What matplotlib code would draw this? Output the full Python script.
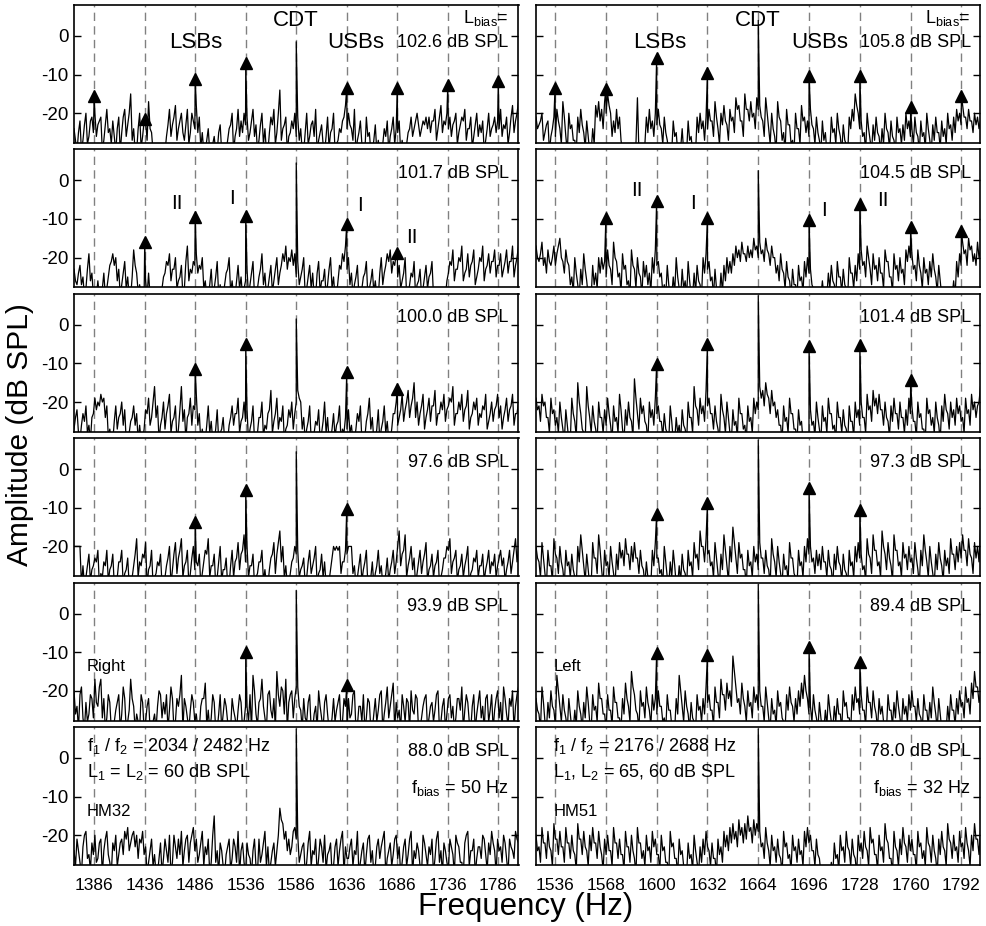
import numpy as np
import matplotlib
matplotlib.use("Agg")
import matplotlib.pyplot as plt

plt.rcParams['font.family'] = ['Liberation Sans', 'DejaVu Sans']
plt.rcParams['mathtext.fontset'] = 'custom'
plt.rcParams['mathtext.rm'] = 'Liberation Sans'
plt.rcParams['mathtext.it'] = 'Liberation Sans:italic'
plt.rcParams['axes.unicode_minus'] = False
plt.rcParams['lines.scale_dashes'] = False

# ---------------- data ----------------
left_xlim = (1366, 1806)
right_xlim = (1524, 1804)
left_ticks = [1386, 1436, 1486, 1536, 1586, 1636, 1686, 1736, 1786]
right_ticks = [1536, 1568, 1600, 1632, 1664, 1696, 1728, 1760, 1792]
left_cdt_freq = 1586
right_cdt_freq = 1664
left_sb_freqs = [1386, 1436, 1486, 1536, 1636, 1686, 1736, 1786]
right_sb_freqs = [1536, 1568, 1600, 1632, 1696, 1728, 1760, 1792]

left_lbias = ["102.6", "101.7", "100.0", "97.6", "93.9", "88.0"]
right_lbias = ["105.8", "104.5", "101.4", "97.3", "89.4", "78.0"]

left_cdt_levels = [-1.5, 4.5, 1.5, 4.5, 6.0, 7.5]
right_cdt_levels = [4.0, 2.5, 7.5, 7.5, 7.5, 7.5]

N = None
L1_sb = [-15.5, -21.5, -11.2, -7.0, -13.4, -13.4, -12.7, -11.6]
L2_sb = [N, -16.0, -9.6, -9.1, -11.2, -18.9, N, N]
L3_sb = [N, N, -11.4, -4.9, -12.3, -16.6, N, N]
L4_sb = [N, N, -13.6, -5.4, -10.2, N, N, N]
L5_sb = [N, N, N, -9.9, -18.4, N, N, N]
L6_sb = [N, N, N, N, N, N, N, N]
R1_sb = [-13.5, -13.7, -5.7, -9.6, -10.3, -10.3, -18.4, -15.5]
R2_sb = [N, -9.8, -5.3, -9.8, -10.2, -6.0, -12.2, -13.2]
R3_sb = [N, N, -10.2, -4.9, -5.4, -5.2, -14.2, N]
R4_sb = [N, N, -11.5, -8.8, -4.9, -10.6, N, N]
R5_sb = [N, N, -10.3, -10.8, -8.6, -12.5, N, N]
R6_sb = [N, N, N, N, N, N, N, N]

# background spectra: 150 bins across each panel (main) + 149 in-between bins (mid)
L1_noise = [-24,-30,-22,-27,-20,-26,-21,
 -20,-23,-21,-27,-19,-24,-22,-30,-21,-25,-19,-23,-15,-24,-30,-20,-26,
 -22,-17,-25,-30,-30,-30,-30,-26,-19,-23,-18,-24,-20,-27,-19,-25,-22,
 -18,-21,-25,-30,-24,-30,-26,-30,-23,-28,-30,-24,-20,-26,-19,-22,-20,
 -21,-25,-19,-23,-27,-20,-24,-30,-21,-19,-25,-14,-24,-21,-26,-22,-20,
 -21,-24,-30,-20,-26,-22,-19,-27,-23,-30,-21,-25,-20,-28,-24,-22,-18,
 -20,-24,-19,-27,-22,-30,-21,-25,-30,-23,-27,-30,-24,-22,-26,-21,-24,
 -22,-27,-30,-25,-21,-24,-20,-26,-22,-21,-21,-22,-19,-24,-18,-22,-20,
 -21,-23,-20,-25,-21,-19,-24,-21,-26,-20,-23,-22,-27,-20,-24,-21,-22,
 -19,-23,-21,-25,-18,-22,-17]
L1_mid = [-27,-25,-30,-23,-28,-22,-25,
 -26,-22,-30,-23,-25,-28,-26,-24,-30,-21,-26,-20,-27,-30,-24,-29,-22,
 -27,-24,-30,-30,-30,-30,-30,-23,-26,-21,-27,-22,-25,-23,-28,-20,-24,
 -25,-29,-30,-27,-30,-28,-30,-25,-30,-30,-27,-23,-30,-24,-26,-25,-23,
 -27,-22,-26,-30,-23,-28,-30,-25,-23,-28,-20,-27,-23,-30,-25,-24,-26,
 -27,-30,-25,-28,-23,-26,-30,-25,-28,-26,-29,-24,-30,-27,-25,-21,-24,
 -23,-27,-30,-25,-28,-30,-26,-30,-27,-30,-30,-28,-26,-30,-24,-28,-25,
 -30,-30,-28,-24,-26,-22,-23,-24,-23,-24,-25,-22,-27,-21,-25,-23,-24,
 -26,-22,-28,-23,-22,-27,-24,-29,-23,-26,-25,-30,-24,-26,-23,-25,-24,
 -26,-24,-28,-21,-25,-20]
L2_noise = [-23,-27,-22,-25,-28,-19,-24,
 -30,-26,-30,-24,-28,-22,-19,-20,-23,-27,-21,-25,-30,-18,-24,-27,-30,
 -26,-24,-30,-30,-28,-30,-25,-21,-19,-23,-20,-26,-22,-28,-17,-23,-21,
 -19,-22,-20,-26,-30,-23,-28,-21,-27,-30,-24,-20,-26,-30,-22,-25,-28,
 -23,-27,-21,-30,-25,-19,-24,-28,-22,-26,-20,-24,-19,-17,-20,-18,-19,
 -21,-25,-20,-28,-22,-24,-30,-21,-26,-23,-27,-20,-25,-30,-22,-19,-17,
 -20,-24,-27,-22,-30,-25,-21,-28,-23,-26,-30,-20,-24,-19,-18,-21,-19,
 -22,-26,-20,-30,-24,-21,-27,-23,-28,-22,-25,-21,-29,-30,-30,-30,-26,
 -21,-18,-23,-20,-17,-24,-19,-22,-18,-25,-20,-17,-23,-19,-21,-18,-22,
 -19,-23,-18,-21,-17,-22,-17]
L2_mid = [-26,-24,-27,-30,-23,-26,-30,
 -30,-30,-28,-30,-25,-21,-22,-26,-30,-24,-28,-30,-25,-22,-29,-30,-30,
 -30,-30,-30,-30,-30,-28,-24,-22,-26,-23,-28,-25,-30,-21,-26,-24,-22,
 -24,-23,-28,-30,-27,-30,-25,-30,-30,-27,-23,-29,-30,-26,-28,-30,-26,
 -30,-24,-30,-28,-23,-27,-30,-25,-29,-23,-27,-22,-21,-23,-21,-22,-25,
 -27,-23,-30,-25,-28,-30,-24,-29,-26,-30,-23,-28,-30,-26,-23,-21,-23,
 -27,-30,-25,-30,-28,-24,-30,-26,-29,-30,-24,-27,-22,-21,-24,-22,-25,
 -28,-24,-30,-27,-25,-30,-26,-30,-25,-28,-24,-30,-30,-30,-30,-30,-24,
 -22,-26,-23,-21,-26,-23,-25,-21,-27,-23,-21,-26,-22,-24,-21,-25,-22,
 -25,-21,-24,-21,-25,-20]
L3_noise = [-27,-22,-30,-23,-21,-26,-24,
 -19,-20,-18,-19,-21,-27,-30,-21,-24,-20,-22,-30,-25,-21,-23,-26,-30,
 -22,-19,-24,-16,-21,-26,-20,-23,-18,-25,-21,-27,-16,-22,-24,-19,-21,
 -18,-23,-27,-30,-21,-25,-30,-22,-28,-24,-30,-26,-21,-23,-19,-25,-20,
 -22,-27,-21,-30,-24,-20,-26,-23,-17,-25,-19,-24,-21,-27,-22,-20,-23,
 -17,-20,-24,-27,-21,-30,-25,-22,-28,-20,-24,-30,-23,-26,-21,-27,-24,
 -22,-26,-30,-23,-21,-28,-25,-19,-24,-30,-22,-27,-21,-25,-30,-23,-20,
 -24,-18,-22,-17,-21,-15,-20,-23,-18,-24,-19,-21,-17,-23,-20,-18,-22,
 -19,-16,-23,-20,-18,-22,-17,-24,-20,-19,-23,-21,-18,-25,-20,-22,-18,
 -21,-24,-19,-22,-18,-23,-20]
L3_mid = [-24,-28,-26,-25,-28,-30,-23,
 -22,-21,-20,-24,-29,-30,-25,-27,-23,-26,-30,-28,-24,-26,-30,-30,-27,
 -23,-26,-20,-24,-30,-24,-27,-21,-28,-24,-30,-22,-25,-30,-23,-26,-22,
 -26,-30,-30,-26,-28,-30,-27,-30,-27,-30,-30,-24,-26,-23,-28,-24,-25,
 -30,-25,-30,-28,-24,-29,-27,-22,-28,-23,-27,-25,-30,-26,-24,-27,-20,
 -19,-27,-30,-25,-30,-28,-26,-30,-25,-28,-30,-27,-29,-25,-30,-28,-27,
 -28,-30,-27,-25,-30,-29,-23,-27,-30,-27,-30,-25,-28,-30,-27,-23,-26,
 -22,-25,-20,-24,-19,-24,-26,-21,-27,-22,-25,-21,-26,-23,-22,-25,-21,
 -20,-26,-23,-22,-25,-21,-27,-23,-22,-26,-24,-22,-27,-23,-25,-21,-24,
 -27,-22,-25,-21,-26,-23]
L4_noise = [-20,-20,-20,-25,-28,-22,-26,
 -23,-21,-27,-24,-21,-26,-22,-30,-24,-21,-27,-23,-30,-25,-18,-24,-22,
 -19,-26,-21,-28,-24,-22,-30,-25,-20,-26,-19,-23,-18,-25,-21,-27,-20,
 -24,-22,-27,-21,-18,-25,-22,-28,-20,-26,-23,-30,-21,-24,-19,-22,-17,
 -20,-25,-22,-28,-24,-21,-26,-30,-23,-19,-22,-16,-20,-25,-30,-24,-20,
 -21,-26,-23,-28,-21,-25,-20,-27,-22,-24,-30,-26,-20,-20,-20,-24,-21,
 -20,-20,-25,-28,-22,-26,-21,-30,-24,-27,-21,-25,-30,-23,-26,-21,-24,
 -16,-22,-17,-25,-20,-23,-27,-21,-24,-19,-26,-22,-25,-21,-28,-23,-20,
 -18,-24,-21,-26,-22,-25,-20,-27,-23,-21,-25,-22,-26,-21,-24,-22,-25,
 -21,-23,-26,-21,-24,-18,-21]
L4_mid = [-20,-20,-30,-30,-25,-29,-25,
 -24,-30,-28,-25,-29,-25,-30,-28,-24,-30,-26,-30,-28,-22,-28,-25,-23,
 -30,-25,-30,-27,-25,-30,-28,-23,-30,-22,-27,-21,-28,-24,-30,-23,-26,
 -25,-30,-24,-22,-28,-25,-30,-24,-29,-26,-30,-25,-28,-23,-26,-21,-24,
 -28,-25,-30,-27,-24,-29,-30,-26,-22,-27,-19,-24,-28,-30,-27,-23,-22,
 -28,-25,-30,-24,-27,-23,-30,-26,-28,-30,-29,-23,-21,-21,-27,-24,-22,
 -20,-27,-30,-25,-29,-24,-30,-28,-30,-25,-27,-30,-27,-29,-24,-27,-20,
 -25,-21,-28,-23,-26,-30,-24,-27,-22,-29,-25,-28,-24,-30,-26,-23,-21,
 -27,-23,-29,-25,-28,-23,-30,-26,-24,-28,-25,-29,-24,-27,-25,-28,-23,
 -25,-29,-24,-27,-21,-24]
L5_noise = [-20,-24,-21,-27,-23,-26,-22,
 -17,-24,-17,-22,-27,-23,-30,-25,-21,-26,-22,-28,-17,-24,-26,-30,-23,
 -28,-22,-30,-26,-24,-21,-23,-21,-25,-22,-28,-24,-16,-22,-27,-25,-23,
 -26,-30,-22,-18,-25,-27,-23,-30,-21,-26,-24,-30,-22,-27,-25,-23,-28,
 -24,-21,-16,-26,-23,-17,-27,-21,-25,-22,-15,-24,-20,-17,-23,-20,-22,
 -19,-25,-22,-28,-21,-30,-24,-20,-27,-23,-26,-30,-22,-25,-21,-28,-24,
 -22,-26,-20,-29,-24,-21,-27,-23,-30,-22,-25,-20,-26,-19,-24,-18,-23,
 -25,-21,-28,-23,-20,-26,-22,-30,-24,-21,-27,-23,-25,-20,-28,-22,-26,
 -21,-24,-27,-22,-19,-25,-23,-30,-21,-26,-20,-24,-22,-28,-21,-25,-20,
 -23,-19,-26,-22,-20,-24,-19]
L5_mid = [-26,-30,-19,-30,-28,-21,-27,
 -23,-19,-27,-30,-21,-30,-28,-23,-30,-19,-30,-25,-22,-30,-28,-21,-30,
 -24,-30,-28,-30,-20,-27,-26,-30,-19,-30,-22,-21,-30,-24,-30,-21,-28,
 -30,-24,-22,-29,-30,-21,-30,-26,-30,-22,-28,-30,-25,-30,-21,-30,-24,
 -28,-30,-20,-29,-22,-24,-30,-20,-27,-30,-21,-19,-26,-30,-21,-27,-19,
 -24,-30,-27,-23,-30,-26,-30,-24,-30,-21,-30,-27,-28,-23,-30,-22,-30,
 -27,-21,-30,-24,-28,-30,-22,-30,-26,-28,-21,-30,-23,-27,-21,-30,-27,
 -30,-24,-22,-30,-25,-21,-30,-27,-22,-30,-24,-28,-21,-30,-24,-30,-22,
 -27,-30,-22,-25,-30,-21,-28,-24,-30,-23,-27,-30,-21,-25,-30,-22,-27,
 -30,-22,-29,-24,-30,-21]
L6_noise = [-24,-21,-27,-23,-19,-25,-22,
 -20,-26,-21,-24,-19,-27,-22,-20,-25,-21,-19,-18,-22,-19,-20,-21,-19,
 -23,-27,-21,-25,-30,-22,-26,-24,-20,-27,-23,-21,-19,-24,-20,-22,-18,
 -21,-25,-19,-23,-21,-27,-15,-24,-22,-28,-25,-21,-26,-23,-19,-24,-27,
 -22,-26,-24,-28,-21,-25,-19,-23,-27,-22,-24,-13,-17,-19,-21,-23,-18,
 -20,-25,-22,-27,-19,-24,-21,-26,-23,-20,-25,-22,-28,-21,-24,-19,-23,
 -26,-21,-24,-19,-27,-22,-25,-20,-24,-28,-21,-23,-19,-26,-22,-25,-20,
 -23,-27,-21,-25,-19,-24,-22,-28,-20,-25,-23,-21,-26,-19,-24,-22,-27,
 -21,-25,-20,-23,-27,-22,-19,-24,-21,-26,-23,-20,-25,-22,-19,-24,-21,
 -23,-20,-26,-21,-24,-19,-22]
L6_mid = [-28,-24,-30,-20,-26,-29,-25,
 -27,-22,-30,-21,-25,-30,-24,-28,-22,-25,-21,-24,-20,-23,-26,-22,-25,
 -30,-24,-28,-30,-26,-30,-21,-27,-30,-20,-26,-25,-28,-21,-27,-20,-24,
 -27,-22,-28,-25,-30,-20,-27,-30,-24,-30,-23,-29,-21,-27,-30,-22,-30,
 -25,-30,-21,-30,-27,-22,-28,-30,-24,-28,-20,-16,-21,-24,-25,-19,-21,
 -27,-23,-30,-22,-28,-25,-30,-21,-27,-29,-24,-30,-23,-28,-21,-30,-26,
 -23,-28,-25,-30,-24,-30,-21,-27,-30,-23,-26,-21,-30,-24,-28,-21,-26,
 -30,-23,-28,-21,-30,-26,-24,-30,-22,-28,-25,-30,-21,-27,-30,-24,-29,
 -23,-30,-22,-27,-30,-20,-28,-24,-30,-23,-26,-21,-29,-25,-22,-30,-24,
 -27,-22,-30,-23,-26,-21]
R1_noise = [-21,-23,-20,-25,-22,-26,-21,
 -19,-24,-17,-26,-20,-23,-27,-21,-19,-25,-22,-30,-24,-18,-17,-19,-17,
 -15,-20,-22,-19,-21,-30,-30,-28,-30,-30,-16,-30,-30,-21,-19,-22,-20,
 -19,-24,-21,-27,-30,-22,-25,-30,-24,-28,-22,-26,-30,-21,-20,-22,-21,
 -19,-22,-17,-24,-20,-18,-23,-19,-21,-16,-18,-22,-15,-19,-17,-20,-16,
 -18,-22,-16,-24,-20,-26,-17,-22,-25,-19,-23,-27,-20,-24,-18,-21,-22,
 -19,-24,-21,-27,-22,-25,-30,-21,-24,-20,-26,-23,-28,-21,-19,-15,-20,
 -22,-25,-20,-27,-23,-21,-26,-24,-20,-25,-22,-27,-21,-24,-23,-20,-22,
 -24,-21,-26,-22,-25,-20,-27,-23,-21,-25,-22,-24,-20,-23,-21,-19,-20,
 -18,-21,-19,-22,-20,-21,-22]
R1_mid = [-24,-22,-27,-23,-30,-24,-26,
 -22,-28,-21,-30,-24,-27,-30,-25,-23,-29,-26,-30,-28,-21,-22,-24,-20,
 -18,-26,-25,-24,-27,-30,-30,-30,-30,-28,-30,-30,-28,-25,-24,-26,-23,
 -23,-28,-25,-30,-30,-26,-30,-29,-30,-30,-27,-30,-30,-25,-24,-27,-24,
 -22,-26,-21,-28,-23,-22,-27,-22,-25,-19,-22,-26,-19,-22,-21,-24,-19,
 -21,-26,-20,-28,-24,-30,-21,-27,-30,-23,-28,-30,-24,-28,-22,-25,-26,
 -23,-28,-25,-30,-27,-30,-30,-25,-28,-24,-30,-27,-30,-24,-22,-18,-24,
 -26,-30,-24,-30,-27,-25,-30,-28,-24,-29,-26,-30,-25,-28,-27,-24,-26,
 -28,-25,-30,-26,-29,-24,-30,-27,-25,-29,-26,-28,-24,-27,-25,-22,-23,
 -21,-24,-22,-25,-23,-24]
R2_noise = [-17,-21,-16,-20,-18,-22,-17,
 -19,-15,-21,-18,-22,-25,-20,-27,-23,-19,-26,-30,-22,-24,-20,-20,-21,
 -18,-23,-16,-21,-24,-19,-22,-26,-18,-23,-20,-25,-21,-22,-24,-20,-18,
 -21,-24,-27,-22,-30,-25,-20,-28,-23,-26,-21,-30,-24,-22,-27,-20,-19,
 -21,-25,-23,-28,-24,-22,-20,-21,-19,-17,-18,-16,-19,-17,-18,-15,-17,
 -16,-18,-15,-19,-17,-20,-22,-19,-24,-21,-26,-23,-27,-22,-25,-21,-20,
 -23,-28,-30,-30,-26,-30,-24,-22,-27,-21,-25,-23,-28,-20,-24,-22,-19,
 -18,-21,-17,-23,-19,-22,-20,-24,-18,-21,-25,-19,-22,-20,-23,-18,-17,
 -19,-22,-18,-24,-20,-23,-21,-19,-25,-22,-30,-30,-28,-30,-26,-21,-19,
 -16,-18,-15,-17,-19,-16,-18]
R2_mid = [-20,-19,-22,-24,-21,-20,-22,
 -17,-20,-24,-21,-27,-29,-24,-30,-27,-23,-30,-30,-27,-28,-24,-23,-25,
 -22,-27,-20,-25,-29,-23,-27,-30,-22,-28,-24,-30,-25,-27,-29,-24,-22,
 -25,-29,-30,-27,-30,-29,-25,-30,-28,-30,-26,-30,-29,-26,-30,-24,-23,
 -26,-30,-28,-30,-29,-26,-24,-24,-22,-20,-21,-19,-21,-20,-20,-18,-20,
 -19,-21,-18,-22,-20,-24,-26,-23,-28,-25,-30,-27,-30,-26,-29,-25,-24,
 -27,-30,-30,-30,-30,-30,-28,-26,-30,-25,-29,-27,-30,-24,-28,-26,-23,
 -22,-25,-20,-27,-23,-26,-24,-28,-21,-25,-29,-23,-26,-24,-27,-21,-20,
 -23,-26,-22,-28,-24,-27,-25,-23,-29,-26,-30,-30,-30,-30,-30,-25,-22,
 -19,-22,-18,-21,-22,-20]
R3_noise = [-19,-21,-18,-20,-24,-19,-22,
 -24,-20,-27,-22,-30,-19,-25,-15,-23,-28,-16,-24,-21,-27,-20,-24,-22,
 -19,-26,-21,-24,-18,-27,-22,-20,-25,-14,-23,-19,-21,-26,-20,-22,-19,
 -21,-25,-23,-28,-21,-30,-24,-26,-22,-27,-20,-24,-16,-22,-19,-21,-17,
 -19,-23,-21,-27,-18,-24,-20,-28,-22,-25,-19,-23,-26,-21,-24,-19,-20,
 -16,-17,-15,-19,-17,-20,-22,-26,-21,-24,-19,-23,-27,-22,-25,-30,-28,
 -22,-25,-20,-27,-21,-24,-19,-23,-26,-20,-24,-22,-27,-21,-25,-20,-22,
 -20,-24,-18,-21,-17,-19,-18,-22,-20,-25,-21,-19,-23,-20,-24,-22,-19,
 -21,-25,-20,-23,-27,-19,-22,-24,-20,-26,-21,-18,-23,-20,-22,-19,-21,
 -24,-19,-22,-18,-20,-21,-16]
R3_mid = [-22,-25,-21,-24,-28,-23,-26,
 -28,-24,-30,-26,-30,-23,-29,-20,-27,-30,-21,-28,-25,-30,-24,-28,-26,
 -23,-30,-25,-28,-22,-30,-26,-24,-29,-19,-27,-23,-25,-30,-24,-26,-23,
 -25,-29,-27,-30,-25,-30,-28,-30,-26,-30,-24,-28,-21,-26,-23,-25,-21,
 -23,-27,-25,-30,-22,-28,-24,-30,-26,-29,-23,-27,-30,-25,-28,-23,-22,
 -19,-21,-18,-23,-21,-24,-26,-30,-25,-28,-23,-27,-30,-26,-30,-30,-30,
 -26,-29,-24,-30,-25,-28,-23,-27,-30,-24,-28,-26,-30,-25,-29,-24,-26,
 -24,-28,-22,-25,-21,-23,-22,-26,-24,-29,-25,-23,-27,-24,-28,-26,-23,
 -25,-29,-24,-27,-30,-23,-26,-28,-24,-30,-25,-22,-27,-24,-26,-23,-25,
 -28,-23,-26,-22,-24,-20]
R4_noise = [-20,-24,-19,-27,-21,-25,-18,
 -23,-20,-26,-21,-24,-22,-28,-20,-17,-25,-22,-30,-19,-23,-17,-26,-21,
 -24,-20,-27,-22,-19,-21,-18,-22,-20,-19,-23,-21,-26,-24,-30,-21,-19,
 -23,-26,-20,-28,-24,-21,-30,-25,-22,-27,-21,-24,-19,-22,-16,-20,-18,
 -21,-24,-19,-27,-22,-17,-25,-20,-15,-23,-19,-22,-26,-21,-24,-20,-22,
 -19,-23,-21,-26,-18,-24,-20,-27,-22,-25,-19,-23,-28,-21,-24,-20,-18,
 -20,-23,-21,-22,-20,-24,-21,-26,-22,-20,-25,-22,-27,-21,-24,-20,-19,
 -22,-25,-18,-23,-17,-21,-24,-16,-22,-19,-25,-17,-21,-24,-19,-22,-20,
 -23,-19,-26,-21,-17,-24,-20,-27,-22,-19,-25,-21,-23,-18,-22,-20,-19,
 -17,-21,-18,-23,-19,-20,-16]
R4_mid = [-23,-28,-23,-30,-25,-29,-22,
 -27,-24,-30,-25,-28,-26,-30,-24,-21,-29,-26,-30,-23,-27,-21,-30,-25,
 -28,-24,-30,-26,-23,-25,-22,-26,-24,-23,-27,-25,-30,-28,-30,-25,-23,
 -27,-30,-24,-30,-28,-25,-30,-29,-26,-30,-25,-28,-23,-26,-20,-24,-22,
 -25,-28,-23,-30,-26,-21,-29,-24,-19,-27,-23,-26,-30,-25,-28,-24,-26,
 -23,-27,-25,-30,-22,-28,-24,-30,-26,-29,-23,-27,-30,-25,-28,-24,-22,
 -24,-27,-25,-26,-24,-28,-25,-30,-26,-24,-29,-26,-30,-25,-28,-24,-23,
 -26,-29,-22,-27,-21,-25,-28,-20,-26,-23,-29,-21,-25,-28,-23,-26,-24,
 -27,-23,-30,-25,-21,-28,-24,-30,-26,-23,-29,-25,-27,-22,-26,-24,-23,
 -21,-25,-22,-27,-23,-24]
R5_noise = [-22,-26,-19,-28,-23,-20,-25,
 -16,-24,-21,-27,-22,-30,-25,-20,-26,-23,-19,-28,-21,-24,-18,-22,-26,
 -21,-25,-19,-23,-27,-22,-18,-24,-15,-21,-26,-20,-23,-19,-25,-21,-22,
 -20,-24,-27,-21,-25,-30,-22,-16,-24,-20,-26,-23,-28,-21,-24,-22,-19,
 -21,-25,-19,-23,-17,-21,-18,-20,-11,-19,-22,-18,-24,-20,-23,-19,-21,
 -20,-24,-19,-27,-22,-25,-20,-23,-28,-21,-19,-24,-22,-20,-18,-16,-22,
 -24,-21,-27,-23,-30,-25,-21,-28,-24,-22,-26,-20,-23,-27,-21,-19,-22,
 -21,-25,-19,-23,-20,-26,-22,-24,-28,-21,-25,-23,-20,-27,-22,-24,-21,
 -20,-24,-22,-27,-21,-25,-23,-19,-26,-22,-30,-28,-24,-21,-25,-22,-20,
 -23,-19,-22,-18,-15,-19,-21]
R5_mid = [-25,-30,-23,-30,-27,-24,-29,
 -20,-28,-25,-30,-26,-30,-29,-24,-30,-27,-23,-30,-25,-28,-22,-26,-30,
 -25,-29,-23,-27,-30,-26,-22,-28,-19,-25,-30,-24,-27,-23,-29,-25,-26,
 -24,-28,-30,-25,-29,-30,-26,-20,-28,-24,-30,-27,-30,-25,-28,-26,-23,
 -25,-29,-23,-27,-21,-25,-22,-24,-15,-23,-26,-22,-28,-24,-27,-23,-25,
 -24,-28,-23,-30,-26,-29,-24,-27,-30,-25,-23,-28,-26,-24,-22,-20,-26,
 -28,-25,-30,-27,-30,-29,-25,-30,-28,-26,-30,-24,-27,-30,-25,-23,-26,
 -25,-29,-23,-27,-24,-30,-26,-28,-30,-25,-29,-27,-24,-30,-26,-28,-25,
 -24,-28,-26,-30,-25,-29,-27,-23,-30,-26,-30,-30,-28,-25,-29,-26,-24,
 -27,-23,-26,-22,-19,-23]
R6_noise = [-20,-23,-18,-22,-19,-24,-17,
 -21,-19,-23,-18,-22,-20,-25,-17,-21,-19,-24,-20,-18,-22,-19,-25,-21,
 -20,-24,-18,-22,-21,-25,-19,-23,-20,-26,-18,-22,-24,-20,-23,-19,-21,
 -25,-20,-23,-27,-19,-22,-26,-21,-24,-28,-22,-25,-20,-27,-23,-21,-19,
 -24,-22,-26,-21,-23,-19,-20,-18,-17,-19,-16,-18,-17,-15,-18,-16,-17,
 -19,-22,-18,-24,-20,-23,-21,-26,-19,-22,-25,-20,-23,-21,-24,-19,-18,
 -20,-24,-21,-26,-28,-30,-30,-27,-22,-25,-20,-23,-19,-24,-21,-26,-20,
 -22,-19,-24,-18,-21,-25,-20,-23,-17,-22,-26,-19,-24,-21,-18,-23,-20,
 -21,-25,-19,-22,-24,-18,-23,-20,-26,-21,-19,-24,-17,-22,-20,-23,-19,
 -22,-18,-24,-20,-17,-21,-19]
R6_mid = [-24,-27,-22,-26,-23,-28,-21,
 -25,-23,-27,-22,-26,-24,-29,-21,-25,-23,-28,-24,-22,-26,-23,-29,-25,
 -24,-28,-22,-26,-25,-29,-23,-27,-24,-30,-22,-26,-28,-24,-27,-23,-25,
 -29,-24,-27,-30,-23,-26,-30,-25,-28,-30,-26,-29,-24,-30,-27,-25,-23,
 -28,-26,-30,-25,-27,-23,-24,-22,-21,-23,-20,-22,-21,-19,-22,-20,-19,
 -23,-26,-22,-28,-24,-27,-25,-30,-23,-26,-29,-24,-27,-25,-28,-23,-22,
 -24,-28,-25,-30,-30,-30,-30,-30,-26,-29,-24,-27,-23,-28,-25,-30,-24,
 -26,-23,-28,-22,-25,-29,-24,-27,-21,-26,-30,-23,-28,-25,-22,-27,-24,
 -25,-29,-23,-26,-28,-22,-27,-24,-30,-25,-23,-28,-21,-26,-24,-27,-23,
 -26,-22,-28,-24,-21,-25]

left_noise = [L1_noise, L2_noise, L3_noise, L4_noise, L5_noise, L6_noise]
left_mid = [L1_mid, L2_mid, L3_mid, L4_mid, L5_mid, L6_mid]
right_noise = [R1_noise, R2_noise, R3_noise, R4_noise, R5_noise, R6_noise]
right_mid = [R1_mid, R2_mid, R3_mid, R4_mid, R5_mid, R6_mid]
left_sb = [L1_sb, L2_sb, L3_sb, L4_sb, L5_sb, L6_sb]
right_sb = [R1_sb, R2_sb, R3_sb, R4_sb, R5_sb, R6_sb]

YLIM = (-27.7, 8.0)

# ---------------- figure ----------------
W, H = 987, 926
fig = plt.figure(figsize=(W / 100, H / 100), dpi=100)

col_x = [74, 536]
col_w = 444.5
row_top = [5 + 144.4 * k for k in range(6)]
row_h = 138


def draw(ax, xlim, noise, mid, sb_freqs, sb_levels, cdt_f, cdt_lv, ticks):
    f = np.linspace(xlim[0], xlim[1], len(noise))
    fm = 0.5 * (f[:-1] + f[1:])
    n_mid = min(len(fm), len(mid))
    pf = [cdt_f] + [s for s, l in zip(sb_freqs, sb_levels) if l is not None]
    pl = [cdt_lv] + [l for l in sb_levels if l is not None]
    freqs = np.concatenate([f, fm[:n_mid], pf])
    vals = np.concatenate([np.array(noise, float), np.array(mid[:n_mid], float), pl])
    order = np.argsort(freqs, kind='stable')
    for t in ticks:
        ax.axvline(t, color='#808080', lw=1.0, dashes=(6, 3.8), zorder=1)
    ax.plot(freqs[order], vals[order], color='black', lw=0.9, zorder=3)
    mf = [s for s, l in zip(sb_freqs, sb_levels) if l is not None]
    ml = [l for l in sb_levels if l is not None]
    ax.plot(mf, ml, linestyle='none', marker='^', ms=8, color='black', zorder=4)
    ax.set_xlim(*xlim)
    ax.set_ylim(*YLIM)
    ax.set_yticks([-20, -10, 0])
    ax.set_xticks(ticks)
    ax.tick_params(axis='y', direction='in', left=True, right=True, length=5,
                   width=1.0, labelsize=13.5, pad=4)
    ax.tick_params(axis='x', length=0, labelsize=12.5, pad=9)
    for sp in ax.spines.values():
        sp.set_linewidth(1.2)


axes = {}
for c in range(2):
    for r in range(6):
        left = col_x[c] / W
        bottom = 1 - (row_top[r] + row_h) / H
        ax = fig.add_axes([left, bottom, col_w / W, row_h / H])
        if c == 0:
            draw(ax, left_xlim, left_noise[r], left_mid[r], left_sb_freqs, left_sb[r],
                 left_cdt_freq, left_cdt_levels[r], left_ticks)
            lab = left_lbias[r]
        else:
            draw(ax, right_xlim, right_noise[r], right_mid[r], right_sb_freqs, right_sb[r],
                 right_cdt_freq, right_cdt_levels[r], right_ticks)
            ax.tick_params(axis='y', labelleft=False)
            lab = right_lbias[r]
        if r < 5:
            ax.tick_params(axis='x', labelbottom=False)
        yv = 0.725 if r == 0 else 0.826
        ax.text(0.978, yv, f"{lab} dB SPL", transform=ax.transAxes,
                ha='right', va='center', fontsize=13)
        axes[(c, r)] = ax

# header annotations
for c, cf, lsb, usb in [(0, 1586, 1487, 1645), (1, 1664, 1602, 1703)]:
    ax = axes[(c, 0)]
    ax.text(cf, 4.1, "CDT", ha='center', va='center', fontsize=16)
    ax.text(lsb, -1.8, "LSBs", ha='center', va='center', fontsize=16)
    ax.text(usb, -1.8, "USBs", ha='center', va='center', fontsize=16)
    ax.text(0.978, 0.906, r"L$_\mathregular{bias}$=", transform=ax.transAxes,
            ha='right', va='center', fontsize=13)

# order labels
axl = axes[(0, 1)]
for x, y, s in [(1467.7, -6.0, "II"), (1522.4, -4.7, "I"), (1649, -6.5, "I"), (1700.6, -14.7, "II")]:
    axl.text(x, y, s, ha='center', va='center', fontsize=15)
axr = axes[(1, 1)]
for x, y, s in [(1587.5, -2.6, "II"), (1622.8, -6.0, "I"), (1705.2, -7.8, "I"), (1742.2, -5.2, "II")]:
    axr.text(x, y, s, ha='center', va='center', fontsize=15)

# ear labels
axes[(0, 4)].text(0.029, 0.393, "Right", transform=axes[(0, 4)].transAxes,
                  ha='left', va='center', fontsize=12)
axes[(1, 4)].text(0.039, 0.393, "Left", transform=axes[(1, 4)].transAxes,
                  ha='left', va='center', fontsize=12)

# stimulus info
a = axes[(0, 5)]
a.text(0.029, 0.865, r"f$_\mathregular{1}$ / f$_\mathregular{2}$ = 2034 / 2482 Hz",
       transform=a.transAxes, ha='left', va='center', fontsize=13)
a.text(0.029, 0.674, r"L$_\mathregular{1}$ = L$_\mathregular{2}$ = 60 dB SPL",
       transform=a.transAxes, ha='left', va='center', fontsize=13)
a.text(0.029, 0.386, "HM32", transform=a.transAxes, ha='left', va='center', fontsize=12)
a.text(0.978, 0.558, r"f$_\mathregular{bias}$ = 50 Hz", transform=a.transAxes,
       ha='right', va='center', fontsize=13)
b = axes[(1, 5)]
b.text(0.039, 0.865, r"f$_\mathregular{1}$ / f$_\mathregular{2}$ = 2176 / 2688 Hz",
       transform=b.transAxes, ha='left', va='center', fontsize=13)
b.text(0.039, 0.674, r"L$_\mathregular{1}$, L$_\mathregular{2}$ = 65, 60 dB SPL",
       transform=b.transAxes, ha='left', va='center', fontsize=13)
b.text(0.039, 0.386, "HM51", transform=b.transAxes, ha='left', va='center', fontsize=12)
b.text(0.978, 0.558, r"f$_\mathregular{bias}$ = 32 Hz", transform=b.transAxes,
       ha='right', va='center', fontsize=13)

fig.text(20 / W, 1 - 435 / H, "Amplitude (dB SPL)", rotation=90,
         ha='center', va='center', fontsize=21.5)
fig.text(526 / W, 1 - 907 / H, "Frequency (Hz)", ha='center', va='center', fontsize=22.5)

fig.savefig("out.png", dpi=100)
